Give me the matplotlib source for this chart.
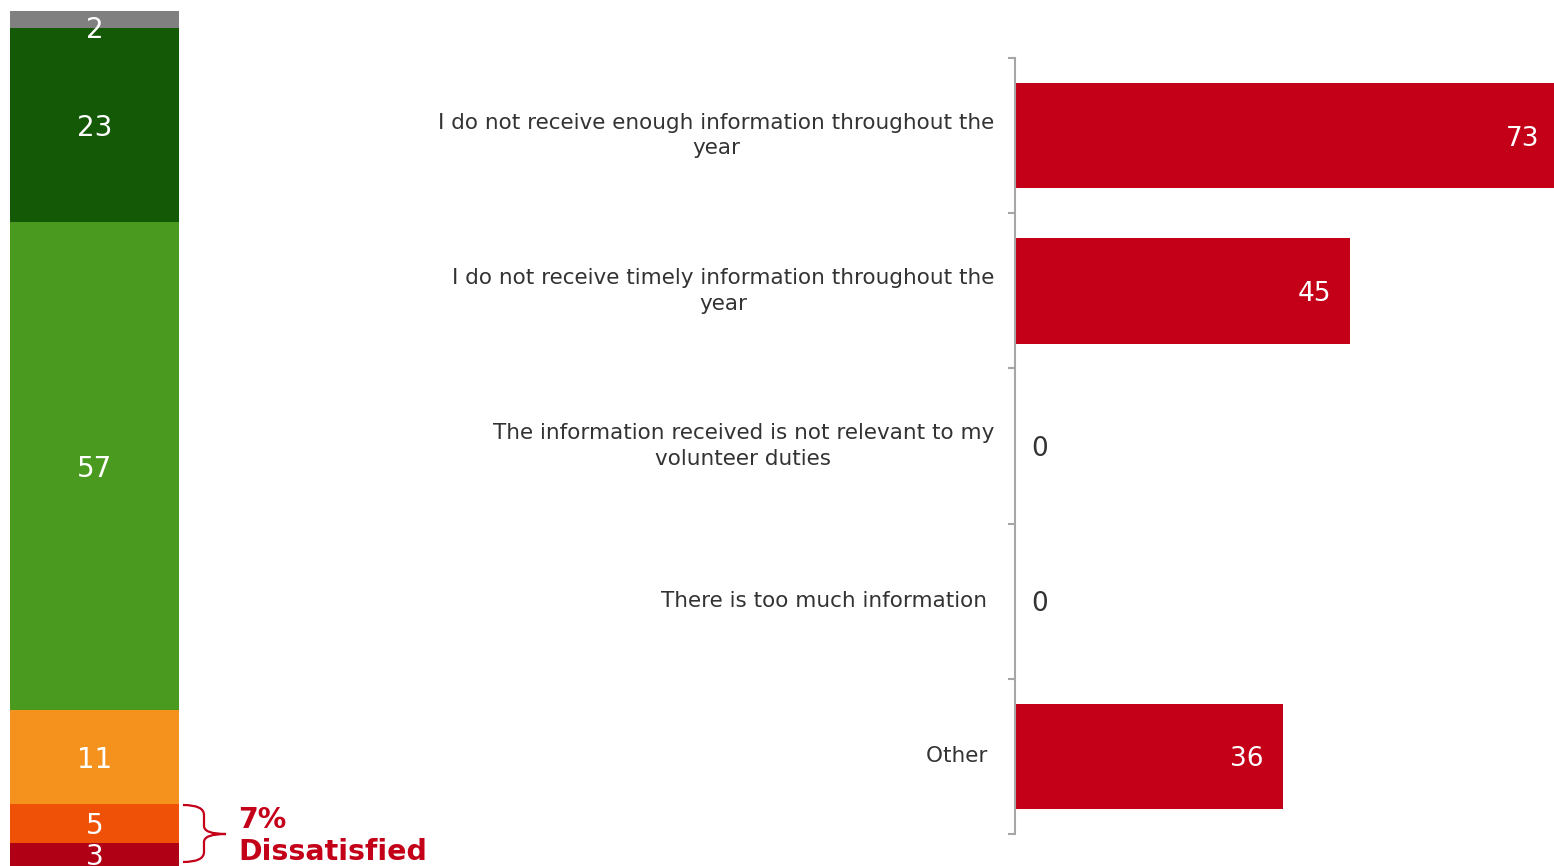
import matplotlib
matplotlib.use("Agg")
import matplotlib.pyplot as plt
from matplotlib.path import Path
from matplotlib.patches import PathPatch

# left stacked bar: satisfaction levels, bottom to top (heights, labels as printed)
stack_values = [2.7, 4.6, 11.0, 57.1, 22.7, 2.0]
stack_labels = ["3", "5", "11", "57", "23", "2"]
stack_colors = ["#B00016", "#EF5107", "#F5921E", "#4A9A1F", "#145A06", "#808080"]

# right chart: reasons for dissatisfaction
reasons = [
    "I do not receive enough information throughout the\nyear",
    "I do not receive timely information throughout the\nyear",
    "The information received is not relevant to my\nvolunteer duties",
    "There is too much information ",
    "Other ",
]
reason_values = [73, 45, 0, 0, 36]

BAR_RED = "#C40018"
TEXT = "#333333"
AXIS_GREY = "#A6A6A6"

W, H = 1554, 866
fig = plt.figure(figsize=(W / 100, H / 100), dpi=100)

# ---- left stacked bar ----
axl = fig.add_axes([10 / W, 0, 169 / W, 1 - 11 / H])
bottom = 0
for v, lab, c in zip(stack_values, stack_labels, stack_colors):
    axl.bar(0, v, bottom=bottom, width=1.0, color=c, linewidth=0)
    y = bottom + v / 2
    if v <= 2:
        y = bottom + 0.1  # small top segment: label sits on its lower edge
    axl.text(0, y, lab, ha="center", va="center_baseline", color="white", fontsize=20)
    bottom += v
axl.set_xlim(-0.5, 0.5)
axl.set_ylim(0, bottom)
axl.axis("off")

# brace next to the two dissatisfied segments (figure pixel coords)
def px(x, y):
    return (x / W, 1 - y / H)

verts = [px(183, 805),
         px(204, 805), px(204, 815),
         px(204, 826),
         px(204, 834), px(226, 834),
         px(204, 834), px(204, 842),
         px(204, 852),
         px(204, 862), px(183, 862)]
codes = [Path.MOVETO,
         Path.CURVE3, Path.CURVE3,
         Path.LINETO,
         Path.CURVE3, Path.CURVE3,
         Path.CURVE3, Path.CURVE3,
         Path.LINETO,
         Path.CURVE3, Path.CURVE3]
fig.patches.append(PathPatch(Path(verts, codes), transform=fig.transFigure,
                             fill=False, edgecolor=BAR_RED, linewidth=1.6))
fig.text(238 / W, 1 - 836 / H, "7%\nDissatisfied", color=BAR_RED,
         fontsize=20.5, fontweight="bold", ha="left", va="center", linespacing=1.22)

# ---- right horizontal bars ----
axr = fig.add_axes([1015 / W, 32 / H, 539 / W, 776 / H])
ypos = list(range(len(reasons)))
axr.barh(ypos, reason_values, height=0.68, color=BAR_RED, linewidth=0)
axr.set_xlim(0, 72.3)
axr.set_ylim(len(reasons) - 0.5, -0.5)

for y, v in zip(ypos, reason_values):
    if v > 0:
        axr.annotate(str(v), (v, y), xytext=(-14, 0), textcoords="offset points",
                     ha="right", va="center_baseline", color="white", fontsize=19,
                     annotation_clip=False)
    else:
        axr.annotate(str(v), (0, y), xytext=(12, 0), textcoords="offset points",
                     ha="left", va="center_baseline", color=TEXT, fontsize=19)

for s in ["top", "right", "bottom"]:
    axr.spines[s].set_visible(False)
axr.spines["left"].set_color(AXIS_GREY)
axr.spines["left"].set_linewidth(1.5)
axr.set_xticks([])
axr.set_yticks([y - 0.5 for y in ypos] + [len(reasons) - 0.5])
axr.set_yticklabels([])
axr.tick_params(axis="y", which="major", length=5, width=1.5, color=AXIS_GREY)
axr.set_yticks(ypos, minor=True)
axr.set_yticklabels(reasons, minor=True, fontsize=15.5, color=TEXT,
                    multialignment="center", linespacing=1.35)
for lab in axr.get_yticklabels(minor=True):
    lab.set_va("center")
axr.tick_params(axis="y", which="minor", length=0, pad=15)

fig.savefig("out.png", dpi=100, facecolor="white")
